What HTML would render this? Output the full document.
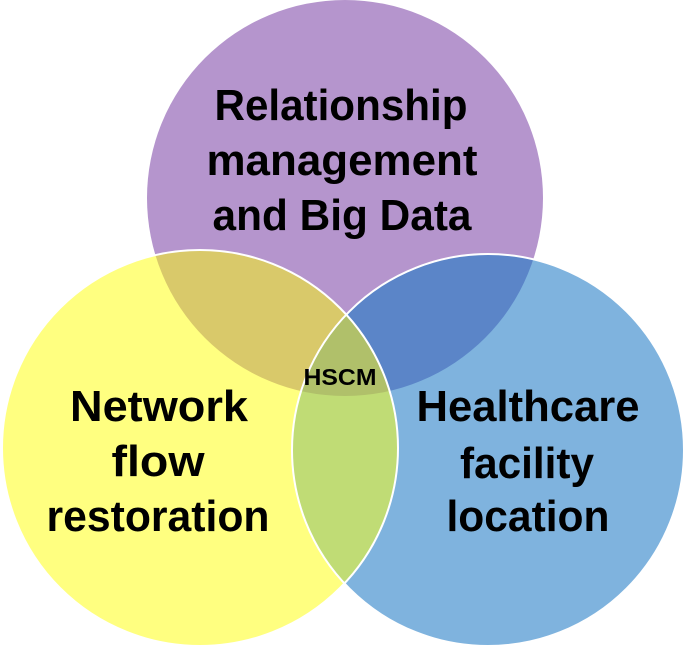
<!DOCTYPE html>
<html><head><meta charset="utf-8"><style>html,body{margin:0;padding:0;background:#fff}svg{display:block}</style></head>
<body>
<svg width="685" height="647" viewBox="0 0 685 647" xmlns="http://www.w3.org/2000/svg">
<defs>
<clipPath id="cp"><circle cx="345" cy="198" r="198"/></clipPath>
<clipPath id="cy"><circle cx="200" cy="448" r="198"/></clipPath>
<clipPath id="cb"><circle cx="488" cy="450" r="196"/></clipPath>
</defs>
<circle cx="345" cy="198" r="198" fill="#b595cd"/>
<circle cx="200" cy="448" r="198" fill="#ffff80"/>
<circle cx="488" cy="450" r="196" fill="#7fb3de"/>
<g clip-path="url(#cp)"><circle cx="200" cy="448" r="198" fill="#d9c96a"/><circle cx="488" cy="450" r="196" fill="#5b85c8"/></g>
<g clip-path="url(#cy)"><circle cx="488" cy="450" r="196" fill="#c0dc75"/></g>
<g clip-path="url(#cy)"><g clip-path="url(#cp)"><circle cx="488" cy="450" r="196" fill="#b0c06a"/></g></g>
<circle cx="200" cy="448" r="198" fill="none" stroke="#fff" stroke-width="2"/>
<circle cx="488" cy="450" r="196" fill="none" stroke="#fff" stroke-width="2"/>
<g font-family="Liberation Sans, sans-serif" font-weight="bold" fill="#000" font-size="44" text-anchor="middle">
<text x="341" y="120" textLength="253" lengthAdjust="spacingAndGlyphs">Relationship</text>
<text x="342" y="175" textLength="271" lengthAdjust="spacingAndGlyphs">management</text>
<text x="342" y="230" textLength="259" lengthAdjust="spacingAndGlyphs">and Big Data</text>
<text x="159" y="421" textLength="178" lengthAdjust="spacingAndGlyphs">Network</text>
<text x="158" y="476" textLength="93" lengthAdjust="spacingAndGlyphs">flow</text>
<text x="158" y="531" textLength="223" lengthAdjust="spacingAndGlyphs">restoration</text>
<text x="528" y="421" textLength="223" lengthAdjust="spacingAndGlyphs">Healthcare</text>
<text x="527" y="478" textLength="134" lengthAdjust="spacingAndGlyphs">facility</text>
<text x="528" y="531" textLength="163" lengthAdjust="spacingAndGlyphs">location</text>
<text x="340" y="385" font-size="23" textLength="73" lengthAdjust="spacingAndGlyphs">HSCM</text>
</g>
</svg>
</body></html>
